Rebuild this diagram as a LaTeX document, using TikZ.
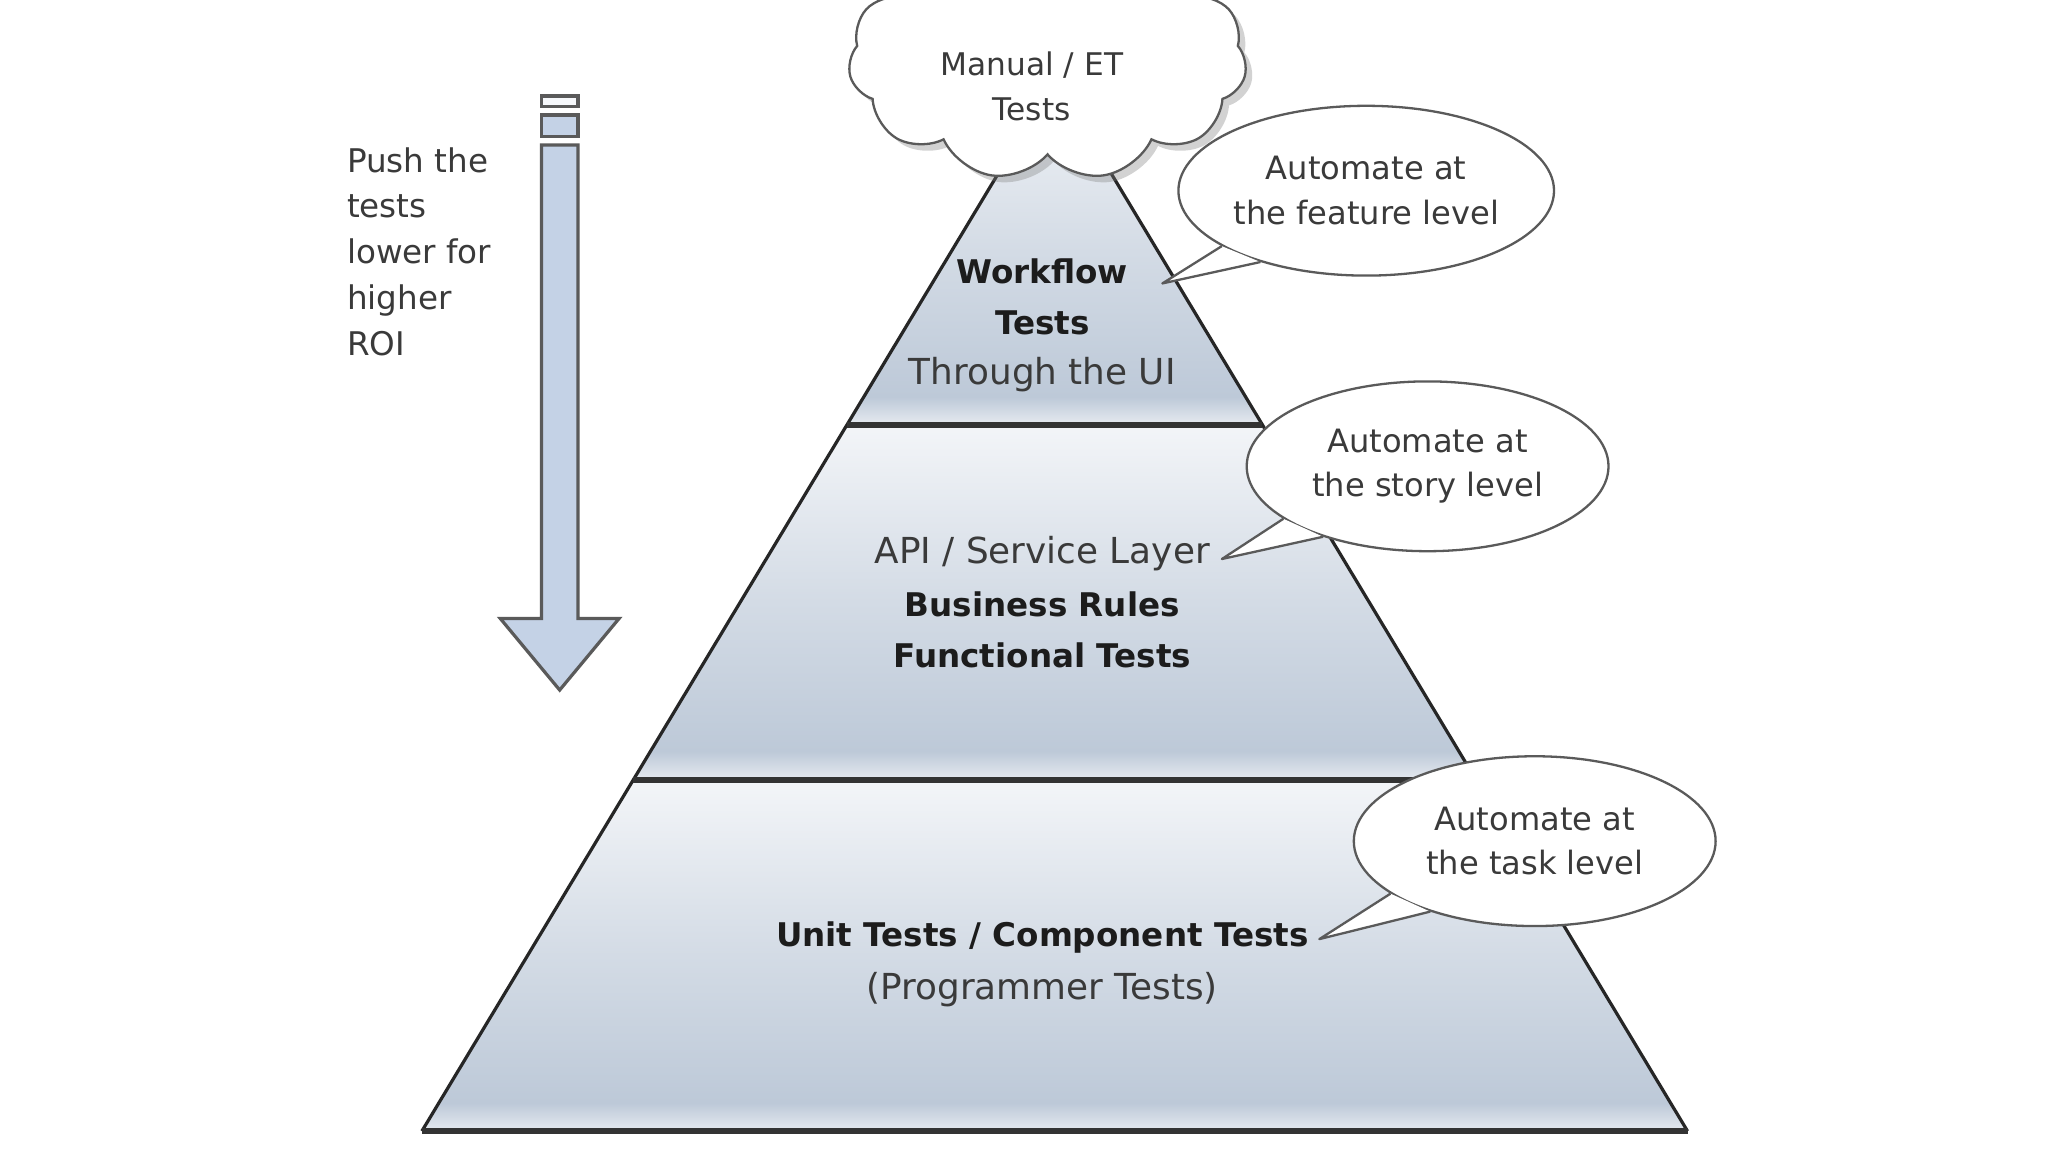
\documentclass[tikz,border=0pt]{standalone}
\usepackage{fontspec}
\setmainfont{DejaVu Sans}
\usetikzlibrary{shapes,shadows,calc,positioning}

\definecolor{pyrtop}{HTML}{F3F5F8}
\definecolor{pyrmid}{HTML}{D3DBE5}
\definecolor{pyrblue}{HTML}{BDC9D8}
\definecolor{pyrlow}{HTML}{E6EAF0}
\definecolor{arrowblue}{HTML}{C4D2E6}
\definecolor{edgegray}{HTML}{5A5A5A}
\definecolor{txtgray}{HTML}{3A3A3A}
\definecolor{txtdark}{HTML}{1C1C1C}

\pgfdeclareverticalshading{layerglass}{100bp}{color(0bp)=(pyrlow); color(25bp)=(pyrlow); color(29bp)=(pyrblue); color(50bp)=(pyrmid); color(75bp)=(pyrtop); color(100bp)=(pyrtop)}

\tikzset{
  layer/.style={shading=layerglass},
  sepline/.style={line width=1.3pt, draw=black!80},
  sideline/.style={line width=0.7pt, draw=black!85},
  plainline/.style={inner sep=1pt, text=txtgray, font=\fontsize{7.8}{10}\selectfont},
  boldline/.style={inner sep=1pt, text=txtdark, font=\fontsize{7.1}{10}\selectfont\bfseries},
  bubble/.style={ellipse, draw=edgegray, line width=0.5pt, fill=white,
    minimum width=2.77cm, minimum height=1.30cm, inner sep=0pt, align=center,
    text=txtgray, font=\fontsize{7}{9.7}\selectfont},
  tail/.style={draw=edgegray, line width=0.5pt, line join=round},
  arrowline/.style={draw=edgegray, line width=0.7pt, fill=arrowblue},
  pushtext/.style={inner sep=0pt, align=left, text=txtgray, font=\fontsize{7.1}{9.96}\selectfont}
}

\begin{document}
\begin{tikzpicture}
\useasboundingbox (0,0) rectangle (15.68,8.82);
\clip (0,0) rectangle (15.68,8.82);
\fill[white] (0,0) rectangle (15.68,8.82);

% pyramid
\coordinate (apex) at (8.075,8.21);
\coordinate (bl) at (3.23,0.16);
\coordinate (br) at (12.92,0.16);
\coordinate (l1) at ($(apex)!0.328!(bl)$);
\coordinate (r1) at ($(apex)!0.328!(br)$);
\coordinate (l2) at ($(apex)!0.666!(bl)$);
\coordinate (r2) at ($(apex)!0.666!(br)$);
\path[layer] (apex) -- (r1) -- (l1) -- cycle;
\path[layer] (l1) -- (r1) -- (r2) -- (l2) -- cycle;
\path[layer] (l2) -- (r2) -- (br) -- (bl) -- cycle;
\draw[sideline] (bl) -- (apex) -- (br);
\draw[sepline] (l1) -- (r1);
\draw[sepline] (l2) -- (r2);
\draw[sepline] (bl) -- (br);

\node[boldline] (wf) at (7.98,6.74) {Workflow};
\node[boldline] (wt) at (7.98,6.35) {Tests};
\node[plainline] (ui) at (7.98,5.95) {Through the UI};
\node[plainline] (api) at (7.98,4.58) {API / Service Layer};
\node[boldline] (rules) at (7.98,4.19) {Business Rules};
\node[boldline] (func) at (7.98,3.80) {Functional Tests};
\node[boldline] (unit) at (7.98,1.64) {Unit Tests / Component Tests};
\node[plainline] (prog) at (7.98,1.24) {(Programmer Tests)};

% speech bubbles
\node[bubble] (feature) at (10.46,7.36) {Automate at\\the feature level};
\coordinate (featuretip) at ($(wf.east)+(0.22,-0.09)$);
\fill[white] (feature.201) -- (featuretip) -- (feature.214) -- cycle;
\draw[tail] (feature.201) -- (featuretip) -- (feature.214);

\node[bubble] (story) at (10.93,5.25) {Automate at\\the story level};
\coordinate (storytip) at ($(api.east)+(0.05,-0.04)$);
\fill[white] (story.200) -- (storytip) -- (story.214) -- cycle;
\draw[tail] (story.200) -- (storytip) -- (story.214);

\node[bubble] (task) at (11.75,2.38) {Automate at\\the task level};
\coordinate (tasktip) at ($(unit.east)+(0.04,-0.01)$);
\fill[white] (task.200) -- (tasktip) -- (task.214) -- cycle;
\draw[tail] (task.200) -- (tasktip) -- (task.214);

% cloud on top, cut by the top edge
\node[cloud, cloud puffs=11, cloud puff arc=115, aspect=1.7, draw=edgegray, fill=white,
  line width=0.5pt, minimum width=3.05cm, minimum height=1.85cm,
  drop shadow={shadow xshift=0.05cm, shadow yshift=-0.05cm, opacity=0.35}] (manual) at (8.02,8.365) {};
\node[align=center, inner sep=0pt, text=txtgray, font=\fontsize{6.8}{9.7}\selectfont] (manualtext) at (7.90,8.16) {Manual / ET\\Tests};

% push arrow
\draw[arrowline, fill=white!85!arrowblue] (4.145,8.003) rectangle (4.425,8.085);
\draw[arrowline] (4.145,7.773) rectangle (4.425,7.94);
\draw[arrowline] (4.145,7.71) -- (4.145,4.085) -- (3.83,4.085) -- (4.285,3.537)
  -- (4.74,4.085) -- (4.425,4.085) -- (4.425,7.71) -- cycle;
\node[pushtext, anchor=west] (push) at (2.65,6.895) {Push the\\tests\\lower for\\higher\\ROI};
\end{tikzpicture}
\end{document}
